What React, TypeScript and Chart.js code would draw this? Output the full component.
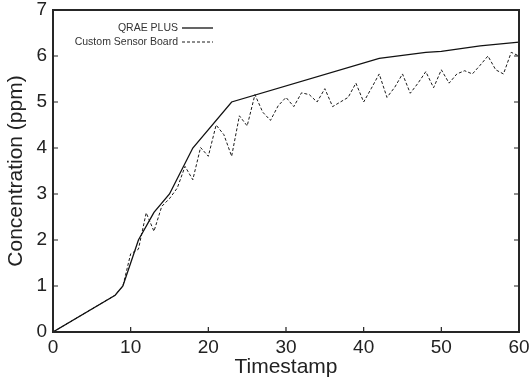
import { useEffect, useRef } from "react";
import { Chart, registerables } from "chart.js";

Chart.register(...registerables);

const qraeTimes = [0, 8, 9, 11, 13, 15, 18, 23, 42, 48, 50, 55, 60];
const qraeValues = [0, 0.8, 1.0, 2.0, 2.6, 3.0, 4.0, 5.0, 5.95, 6.08, 6.1, 6.22, 6.3];

const sensorTimes = [
  0, 8, 9, 10, 11, 12, 13, 14, 15, 16, 17, 18, 19, 20, 21, 22, 23, 24, 25, 26, 27, 28, 29, 30,
  31, 32, 33, 34, 35, 36, 37, 38, 39, 40, 41, 42, 43, 44, 45, 46, 47, 48, 49, 50, 51, 52, 53,
  54, 55, 56, 57, 58, 59, 60,
];
const sensorValues = [
  0, 0.8, 1.0, 1.7, 1.8, 2.59, 2.19, 2.73, 2.9, 3.13, 3.6, 3.31, 4.01, 3.82, 4.5, 4.29, 3.82,
  4.7, 4.48, 5.16, 4.78, 4.6, 4.92, 5.1, 4.9, 5.2, 5.16, 5.0, 5.29, 4.9, 5.0, 5.1, 5.41, 5.0,
  5.3, 5.61, 5.1, 5.32, 5.61, 5.19, 5.41, 5.66, 5.31, 5.7, 5.41, 5.61, 5.68, 5.61, 5.8, 6.0,
  5.7, 5.61, 6.08, 6.0,
];

const seriesLabels = ["QRAE PLUS", "Custom Sensor Board"];
const xTitle = "Timestamp";
const yTitle = "Concentration (ppm)";
const xMin = 0;
const xMax = 60;
const xStep = 10;
const yMin = 0;
const yMax = 7;
const yStep = 1;

const FONT = "'Liberation Sans', Arial, Helvetica, sans-serif";
const INK = "#222222";

const framePlugin = {
  id: "frameAndTicks",
  afterDatasetsDraw(chart: any) {
    const { ctx, chartArea, scales } = chart;
    const { left, right, top, bottom } = chartArea;
    ctx.save();
    ctx.strokeStyle = INK;
    ctx.lineWidth = 1.2;
    const len = 5;
    ctx.beginPath();
    for (let v = yMin + yStep; v < yMax; v += yStep) {
      const y = scales.y.getPixelForValue(v);
      ctx.moveTo(left, y);
      ctx.lineTo(left + len, y);
      ctx.moveTo(right, y);
      ctx.lineTo(right - len, y);
    }
    for (let v = xMin + xStep; v < xMax; v += xStep) {
      const x = scales.x.getPixelForValue(v);
      ctx.moveTo(x, bottom);
      ctx.lineTo(x, bottom - len);
    }
    ctx.stroke();
    ctx.lineWidth = 2;
    ctx.strokeStyle = "#262626";
    ctx.strokeRect(left, top, right - left, bottom - top);
    ctx.restore();
  },
};

const legendPlugin = {
  id: "gnuLegend",
  afterDraw(chart: any) {
    const { ctx } = chart;
    const textRight = 178;
    const lineStart = 182;
    const lineEnd = 213;
    const rows = [28, 42];
    ctx.save();
    ctx.font = `10.5px ${FONT}`;
    ctx.fillStyle = "#333333";
    ctx.textAlign = "right";
    ctx.textBaseline = "middle";
    chart.data.datasets.forEach((ds: any, i: number) => {
      const y = rows[i];
      ctx.fillText(ds.label, textRight, y);
      ctx.beginPath();
      ctx.strokeStyle = ds.borderColor;
      ctx.lineWidth = ds.borderWidth;
      ctx.setLineDash(ds.borderDash || []);
      ctx.moveTo(lineStart, y);
      ctx.lineTo(lineEnd, y);
      ctx.stroke();
      ctx.setLineDash([]);
    });
    ctx.restore();
  },
};

export default function App() {
  const canvasRef = useRef<HTMLCanvasElement | null>(null);

  useEffect(() => {
    document.body.style.margin = "0";
    const canvas = canvasRef.current;
    if (!canvas) return;
    const chart = new Chart(canvas, {
      type: "line",
      data: {
        datasets: [
          {
            label: seriesLabels[0],
            data: qraeTimes.map((t, i) => ({ x: t, y: qraeValues[i] })),
            borderColor: "#111111",
            borderWidth: 1.3,
            pointRadius: 0,
            tension: 0,
            fill: false,
          },
          {
            label: seriesLabels[1],
            data: sensorTimes.map((t, i) => ({ x: t, y: sensorValues[i] })),
            borderColor: "#1a1a1a",
            borderWidth: 1,
            borderDash: [3, 2],
            pointRadius: 0,
            tension: 0,
            fill: false,
          },
        ],
      },
      options: {
        animation: false,
        responsive: true,
        maintainAspectRatio: false,
        layout: { padding: { top: 10, right: 13, left: 0, bottom: 0 } },
        plugins: { legend: { display: false }, tooltip: { enabled: false } },
        scales: {
          x: {
            type: "linear",
            min: xMin,
            max: xMax,
            grid: { display: false, drawTicks: false },
            border: { display: false },
            ticks: {
              stepSize: xStep,
              color: INK,
              padding: 6,
              font: { family: FONT, size: 19, lineHeight: 1 },
            },
            title: {
              display: true,
              text: xTitle,
              color: INK,
              padding: { top: 0, bottom: 3 },
              font: { family: FONT, size: 21, lineHeight: 1.2 },
            },
            afterFit: (scale: any) => {
              scale.height = 51;
              scale.paddingLeft = 0;
              scale.paddingRight = 0;
            },
          },
          y: {
            type: "linear",
            min: yMin,
            max: yMax,
            grid: { display: false, drawTicks: false },
            border: { display: false },
            ticks: {
              stepSize: yStep,
              color: INK,
              padding: 6,
              font: { family: FONT, size: 19, lineHeight: 1 },
            },
            title: {
              display: true,
              text: yTitle,
              color: INK,
              padding: { top: 4, bottom: 0 },
              font: { family: FONT, size: 21, lineHeight: 1.2 },
            },
            afterFit: (scale: any) => {
              scale.width = 53;
              scale.paddingTop = 0;
              scale.paddingBottom = 0;
            },
          },
        },
      },
      plugins: [framePlugin, legendPlugin],
    });
    return () => chart.destroy();
  }, []);

  return (
    <div style={{ position: "fixed", left: 0, top: 0, width: 532, height: 383, background: "#fff" }}>
      <canvas ref={canvasRef} />
    </div>
  );
}
